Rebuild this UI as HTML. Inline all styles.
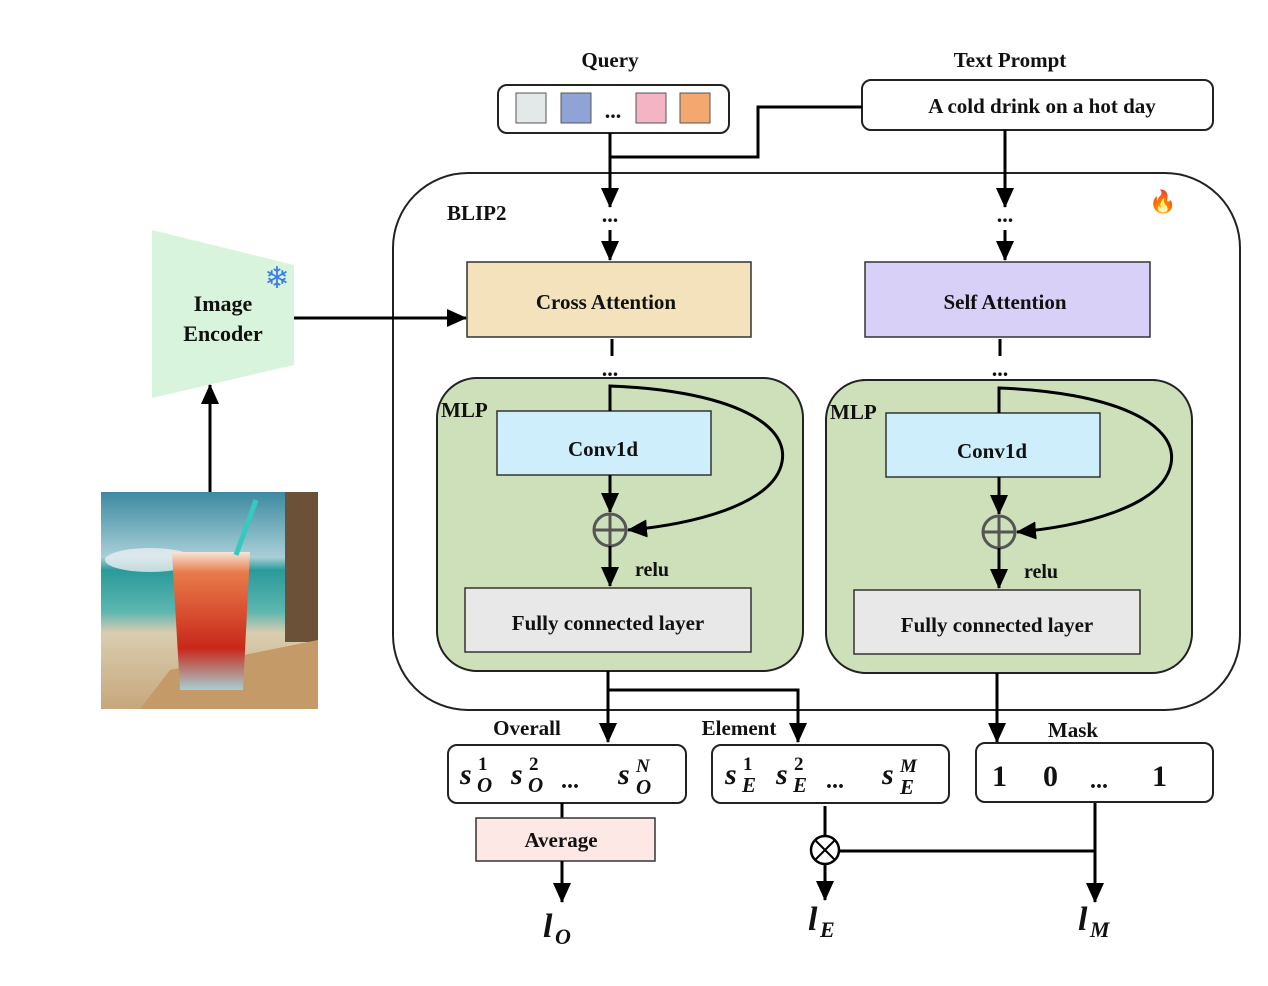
<!DOCTYPE html>
<html><head><meta charset="utf-8"><style>body{margin:0;background:#fff}svg{display:block}text{font-family:"Liberation Serif",serif;font-weight:bold;fill:#111}</style></head><body>
<svg width="1268" height="986" viewBox="0 0 1268 986" xmlns="http://www.w3.org/2000/svg">
<defs>
<marker id="a" markerWidth="20" markerHeight="18" refX="19" refY="9" orient="auto" markerUnits="userSpaceOnUse" viewBox="0 0 20 18"><path d="M0,0L20,9L0,18z" fill="#000"/></marker>
<linearGradient id="sky" x1="0" y1="0" x2="0" y2="1"><stop offset="0" stop-color="#3c8aa0"/><stop offset=".3" stop-color="#a9cfd8"/><stop offset=".36" stop-color="#2a9a9a"/><stop offset=".55" stop-color="#5cb6b0"/><stop offset=".65" stop-color="#d9cdb0"/><stop offset="1" stop-color="#c7a77c"/></linearGradient>
<linearGradient id="drink" x1="0" y1="0" x2="0" y2="1"><stop offset="0" stop-color="#f6e6d8"/><stop offset=".15" stop-color="#e97a4a"/><stop offset=".7" stop-color="#c8281a"/><stop offset="1" stop-color="#a6cfd2"/></linearGradient>
</defs>
<text x="610" y="67" font-size="21" text-anchor="middle">Query</text>
<rect x="498" y="85" width="231" height="48" rx="9" fill="#fff" stroke="#222" stroke-width="2"/>
<rect x="516" y="93" width="30" height="30" fill="#e2e9e8" stroke="#555"/>
<rect x="561" y="93" width="30" height="30" fill="#8fa3d6" stroke="#555"/>
<text x="613" y="118" font-size="22" text-anchor="middle">...</text>
<rect x="636" y="93" width="30" height="30" fill="#f4b4c4" stroke="#555"/>
<rect x="680" y="93" width="30" height="30" fill="#f4a870" stroke="#555"/>
<text x="1010" y="67" font-size="21" text-anchor="middle">Text Prompt</text>
<rect x="862" y="80" width="351" height="50" rx="9" fill="#fff" stroke="#222" stroke-width="2"/>
<text x="1042" y="113" font-size="21" text-anchor="middle">A cold drink on a hot day</text>
<polyline points="862,107 758,107 758,157 610,157" fill="none" stroke="#000" stroke-width="3"/>
<rect x="393" y="173" width="847" height="537" rx="75" fill="#fff" stroke="#222" stroke-width="2"/>
<text x="447" y="220" font-size="21">BLIP2</text>
<text x="1163" y="209" font-size="22" text-anchor="middle" style="font-family:'Noto Color Emoji',sans-serif">🔥</text>
<line x1="610" y1="133" x2="610" y2="207" stroke="#000" stroke-width="3" marker-end="url(#a)"/>
<text x="610" y="222" font-size="22" text-anchor="middle">...</text>
<line x1="610" y1="230" x2="610" y2="260" stroke="#000" stroke-width="3" marker-end="url(#a)"/>
<line x1="1005" y1="130" x2="1005" y2="207" stroke="#000" stroke-width="3" marker-end="url(#a)"/>
<text x="1005" y="222" font-size="22" text-anchor="middle">...</text>
<line x1="1005" y1="230" x2="1005" y2="260" stroke="#000" stroke-width="3" marker-end="url(#a)"/>
<rect x="467" y="262" width="284" height="75" fill="#f3e2bb" stroke="#333" stroke-width="1.5"/>
<text x="606" y="309" font-size="21" text-anchor="middle">Cross Attention</text>
<rect x="865" y="262" width="285" height="75" fill="#d9d0f7" stroke="#333" stroke-width="1.5"/>
<text x="1005" y="309" font-size="21" text-anchor="middle">Self Attention</text>
<line x1="612" y1="339" x2="612" y2="356" stroke="#000" stroke-width="3"/>
<text x="610" y="376" font-size="22" text-anchor="middle">...</text>
<line x1="1000" y1="339" x2="1000" y2="356" stroke="#000" stroke-width="3"/>
<text x="1000" y="376" font-size="22" text-anchor="middle">...</text>
<g>
<rect x="437" y="378" width="366" height="293" rx="40" fill="#cde0b9" stroke="#222" stroke-width="2"/>
<text x="441" y="417" font-size="21">MLP</text>
<rect x="497" y="411" width="214" height="64" fill="#cdeefa" stroke="#333" stroke-width="1.5"/>
<text x="603" y="456" font-size="21" text-anchor="middle">Conv1d</text>
<line x1="610" y1="475" x2="610" y2="512" stroke="#000" stroke-width="3" marker-end="url(#a)"/>
<circle cx="610" cy="530" r="16" fill="none" stroke="#555" stroke-width="3"/>
<line x1="594" y1="530" x2="626" y2="530" stroke="#555" stroke-width="3"/><line x1="610" y1="514" x2="610" y2="546" stroke="#555" stroke-width="3"/>
<line x1="610" y1="546" x2="610" y2="586" stroke="#000" stroke-width="3" marker-end="url(#a)"/>
<text x="652" y="576" font-size="20" text-anchor="middle">relu</text>
<rect x="465" y="588" width="286" height="64" fill="#e8e8e8" stroke="#333" stroke-width="1.5"/>
<text x="608" y="630" font-size="21" text-anchor="middle">Fully connected layer</text>
<path d="M610,411 L610,386 C720,390 790,420 782,462 C774,505 690,525 628,530" fill="none" stroke="#000" stroke-width="3" marker-end="url(#a)"/>
</g>
<g transform="translate(389,2)">
<rect x="437" y="378" width="366" height="293" rx="40" fill="#cde0b9" stroke="#222" stroke-width="2"/>
<text x="441" y="417" font-size="21">MLP</text>
<rect x="497" y="411" width="214" height="64" fill="#cdeefa" stroke="#333" stroke-width="1.5"/>
<text x="603" y="456" font-size="21" text-anchor="middle">Conv1d</text>
<line x1="610" y1="475" x2="610" y2="512" stroke="#000" stroke-width="3" marker-end="url(#a)"/>
<circle cx="610" cy="530" r="16" fill="none" stroke="#555" stroke-width="3"/>
<line x1="594" y1="530" x2="626" y2="530" stroke="#555" stroke-width="3"/><line x1="610" y1="514" x2="610" y2="546" stroke="#555" stroke-width="3"/>
<line x1="610" y1="546" x2="610" y2="586" stroke="#000" stroke-width="3" marker-end="url(#a)"/>
<text x="652" y="576" font-size="20" text-anchor="middle">relu</text>
<rect x="465" y="588" width="286" height="64" fill="#e8e8e8" stroke="#333" stroke-width="1.5"/>
<text x="608" y="630" font-size="21" text-anchor="middle">Fully connected layer</text>
<path d="M610,411 L610,386 C720,390 790,420 782,462 C774,505 690,525 628,530" fill="none" stroke="#000" stroke-width="3" marker-end="url(#a)"/>
</g>
<line x1="608" y1="671" x2="608" y2="742" stroke="#000" stroke-width="3" marker-end="url(#a)"/>
<polyline points="608,690 798,690 798,742" fill="none" stroke="#000" stroke-width="3" marker-end="url(#a)"/>
<line x1="997" y1="673" x2="997" y2="742" stroke="#000" stroke-width="3" marker-end="url(#a)"/>
<text x="527" y="735" font-size="21" text-anchor="middle">Overall</text>
<text x="739" y="735" font-size="21" text-anchor="middle">Element</text>
<text x="1073" y="737" font-size="21" text-anchor="middle">Mask</text>
<rect x="448" y="745" width="238" height="58" rx="9" fill="#fff" stroke="#222" stroke-width="2"/>
<rect x="712" y="745" width="237" height="58" rx="9" fill="#fff" stroke="#222" stroke-width="2"/>
<rect x="976" y="743" width="237" height="59" rx="9" fill="#fff" stroke="#222" stroke-width="2"/>
<g font-size="30">
<text x="460" y="784" font-style="italic">s</text><text x="478" y="770" font-size="19">1</text><text x="477" y="792" font-size="21" font-style="italic">O</text>
<text x="511" y="784" font-style="italic">s</text><text x="529" y="770" font-size="19">2</text><text x="528" y="792" font-size="21" font-style="italic">O</text>
<text x="561" y="788" font-size="24">...</text>
<text x="618" y="784" font-style="italic">s</text><text x="636" y="772" font-size="19" font-style="italic">N</text><text x="636" y="794" font-size="21" font-style="italic">O</text>
<text x="725" y="784" font-style="italic">s</text><text x="743" y="770" font-size="19">1</text><text x="742" y="792" font-size="21" font-style="italic">E</text>
<text x="776" y="784" font-style="italic">s</text><text x="794" y="770" font-size="19">2</text><text x="793" y="792" font-size="21" font-style="italic">E</text>
<text x="826" y="788" font-size="24">...</text>
<text x="882" y="784" font-style="italic">s</text><text x="900" y="772" font-size="19" font-style="italic">M</text><text x="900" y="794" font-size="21" font-style="italic">E</text>
</g>
<text x="992" y="786" font-size="30">1</text><text x="1043" y="786" font-size="30">0</text><text x="1090" y="788" font-size="24">...</text><text x="1152" y="786" font-size="30">1</text>
<line x1="562" y1="803" x2="562" y2="818" stroke="#000" stroke-width="3"/>
<rect x="476" y="818" width="179" height="43" fill="#fde8e6" stroke="#333" stroke-width="1.5"/>
<text x="561" y="847" font-size="21" text-anchor="middle">Average</text>
<line x1="562" y1="861" x2="562" y2="902" stroke="#000" stroke-width="3" marker-end="url(#a)"/>
<line x1="825" y1="806" x2="825" y2="836" stroke="#000" stroke-width="3"/>
<circle cx="825" cy="850" r="14" fill="#fff" stroke="#000" stroke-width="2.5"/>
<line x1="815" y1="840" x2="835" y2="860" stroke="#000" stroke-width="2"/><line x1="835" y1="840" x2="815" y2="860" stroke="#000" stroke-width="2"/>
<line x1="839" y1="851" x2="1095" y2="851" stroke="#000" stroke-width="3"/>
<line x1="1095" y1="803" x2="1095" y2="902" stroke="#000" stroke-width="3" marker-end="url(#a)"/>
<line x1="825" y1="864" x2="825" y2="900" stroke="#000" stroke-width="3" marker-end="url(#a)"/>
<text x="543" y="937" font-size="34" font-style="italic">l</text><text x="555" y="944" font-size="22" font-style="italic">O</text>
<text x="808" y="930" font-size="34" font-style="italic">l</text><text x="820" y="937" font-size="22" font-style="italic">E</text>
<text x="1078" y="930" font-size="34" font-style="italic">l</text><text x="1090" y="937" font-size="22" font-style="italic">M</text>
<polygon points="152,230 294,265 294,365 152,398" fill="#d9f4dc"/>
<text x="223" y="311" font-size="22" text-anchor="middle">Image</text>
<text x="223" y="341" font-size="22" text-anchor="middle">Encoder</text>
<text x="277" y="288" font-size="30" text-anchor="middle" style="fill:#3a7ce8;font-family:'DejaVu Sans',sans-serif">❄</text>
<line x1="294" y1="318" x2="466" y2="318" stroke="#000" stroke-width="3" marker-end="url(#a)"/>
<line x1="210" y1="492" x2="210" y2="385" stroke="#000" stroke-width="3" marker-end="url(#a)"/>
<rect x="101" y="492" width="217" height="217" fill="url(#sky)"/>
<ellipse cx="150" cy="560" rx="45" ry="12" fill="#e8eef0" opacity=".8"/>
<rect x="285" y="492" width="33" height="150" fill="#6b5138"/>
<polygon points="140,709 170,670 318,640 318,709" fill="#c49a68"/>
<polygon points="172,552 250,552 243,690 180,690" fill="url(#drink)"/>
<line x1="236" y1="555" x2="256" y2="500" stroke="#38c8c0" stroke-width="5"/>
</svg>
</body></html>
